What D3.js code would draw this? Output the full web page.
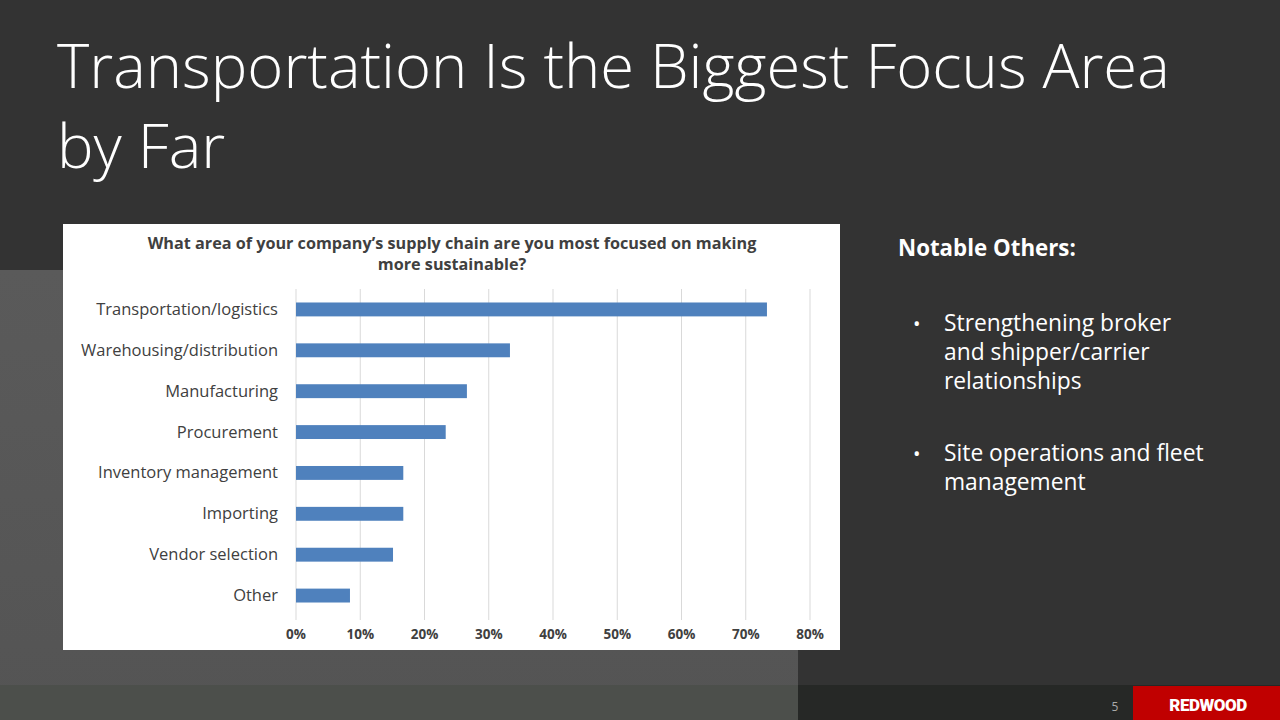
<!DOCTYPE html>
<html><head><meta charset="utf-8">
<script src="https://cdn.jsdelivr.net/npm/d3@7"></script>
<style>body{margin:0;background:#333;overflow:hidden}</style></head>
<body><svg id="s" width="1280" height="720"></svg>
<script>
const categories=["Transportation/logistics","Warehousing/distribution","Manufacturing","Procurement","Inventory management","Importing","Vendor selection","Other"];
const values=[73.3,33.3,26.6,23.3,16.7,16.7,15.1,8.4];
const tickValues=[0,10,20,30,40,50,60,70,80];
const notes=[["Strengthening broker","and shipper/carrier","relationships"],["Site operations and fleet","management"]];

const svg=d3.select("#s");
const defs=svg.append("defs");
const g1=defs.append("linearGradient").attr("id","bg").attr("x1",0).attr("y1",0).attr("x2",0).attr("y2",1);
g1.append("stop").attr("offset",0).attr("stop-color","#5a5a5a");
g1.append("stop").attr("offset",1).attr("stop-color","#545454");
svg.append("rect").attr("width",1280).attr("height",720).attr("fill","#333");
svg.append("rect").attr("x",0).attr("y",270).attr("width",798).attr("height",450).attr("fill","url(#bg)");
svg.append("rect").attr("x",0).attr("y",685).attr("width",798).attr("height",35).attr("fill","#4c4f4b");
svg.append("rect").attr("x",798).attr("y",685).attr("width",482).attr("height",35).attr("fill","#262826");
svg.append("rect").attr("x",1133).attr("y",686).attr("width",147).attr("height",34).attr("fill","#c00000");
svg.append("text").attr("x",1208).attr("y",711).attr("text-anchor","middle").attr("fill","#fff").attr("font-family","Roboto").attr("font-weight",900).attr("font-size",17).attr("letter-spacing",-0.5).text("REDWOOD");
svg.append("text").attr("x",1115).attr("y",711).attr("text-anchor","middle").attr("fill","#aaa").attr("font-family","Open Sans").attr("font-size",12).text("5");

const T=svg.append("text").attr("fill","#fff").attr("font-family","Open Sans").attr("font-weight",300).attr("font-size",61.5);
T.append("tspan").attr("x",57).attr("y",88).text("Transportation Is the Biggest Focus Area");
T.append("tspan").attr("x",57).attr("y",168).text("by Far");

svg.append("text").attr("x",898).attr("y",256).attr("fill","#fff").attr("font-family","Open Sans").attr("font-weight",700).attr("font-size",22.3).text("Notable Others:");
let ny=[331,461];
notes.forEach((n,i)=>{
  svg.append("text").attr("x",913).attr("y",ny[i]).attr("fill","#fff").attr("font-family","Open Sans").attr("font-size",20).text("•");
  n.forEach((l,j)=>svg.append("text").attr("x",944).attr("y",ny[i]+j*29).attr("fill","#fff").attr("font-family","Open Sans").attr("font-size",22.8).text(l));
});

svg.append("rect").attr("x",63).attr("y",224).attr("width",777).attr("height",426).attr("fill","#fff");
const ct=svg.append("text").attr("fill","#404040").attr("font-family","Open Sans").attr("font-weight",700).attr("font-size",16.2).attr("text-anchor","middle");
ct.append("tspan").attr("x",452).attr("y",249).text("What area of your company’s supply chain are you most focused on making");
ct.append("tspan").attr("x",452).attr("y",270).text("more sustainable?");

const x=d3.scaleLinear().domain([0,80]).range([296,810]);
const y=d3.scaleBand().domain(categories).range([289,616]).paddingInner(0.66).paddingOuter(0.33);
svg.append("g").selectAll("line").data(tickValues).join("line")
 .attr("x1",d=>x(d)).attr("x2",d=>x(d)).attr("y1",289).attr("y2",620).attr("stroke","#d9d9d9").attr("stroke-width",1);
svg.append("g").selectAll("rect").data(values).join("rect")
 .attr("x",x(0)).attr("y",(d,i)=>y(categories[i])).attr("width",d=>x(d)-x(0)).attr("height",y.bandwidth()).attr("fill","#4f81bd");
svg.append("g").selectAll("text").data(categories).join("text")
 .attr("x",278).attr("y",d=>y(d)+y.bandwidth()/2+5.5).attr("text-anchor","end").attr("fill","#404040").attr("font-family","Open Sans").attr("font-size",16.5).text(d=>d);
svg.append("g").selectAll("text").data(tickValues).join("text")
 .attr("x",d=>x(d)).attr("y",639).attr("text-anchor","middle").attr("fill","#404040").attr("font-family","Open Sans").attr("font-weight",700).attr("font-size",13.5).text(d=>d+"%");
</script></body></html>
